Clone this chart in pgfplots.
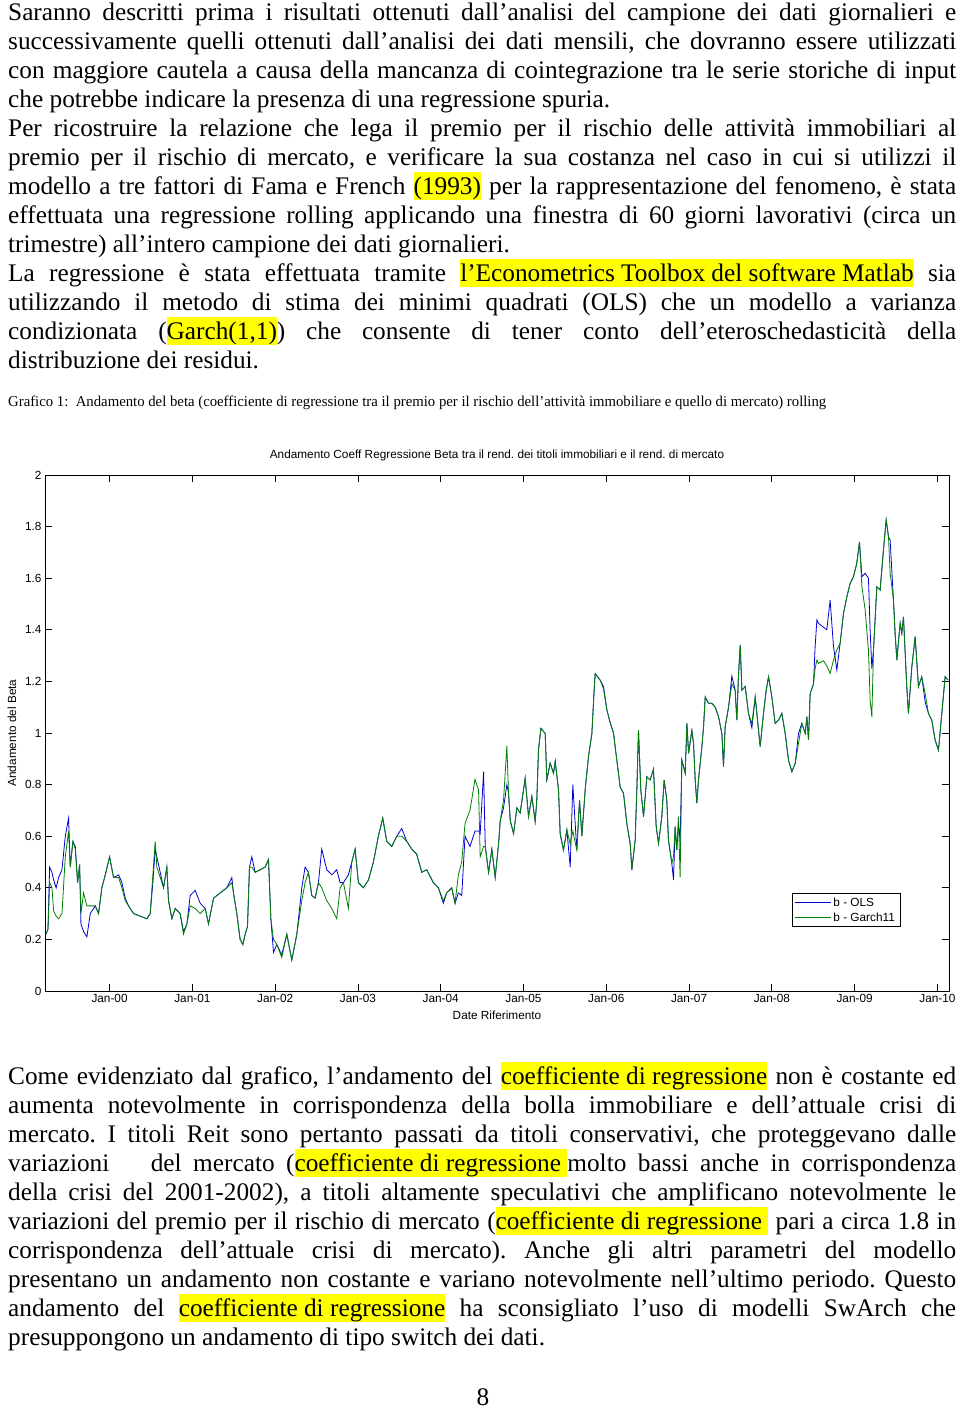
\documentclass[border=0pt]{standalone}
\usepackage{fontspec}
\setmainfont{Liberation Serif}
\newfontfamily\chartfont{Liberation Sans}
\usepackage{graphicx}
\usepackage{pgfplots}
\pgfplotsset{compat=1.18}
\usepackage{pgfplotstable}
\definecolor{olsblue}{RGB}{0,0,210}
\definecolor{garchgreen}{RGB}{0,128,0}
\definecolor{hly}{RGB}{255,255,0}
\newcommand\bodyfont{\fontsize{25.3pt}{29pt}\selectfont}
\newcommand\cfont{\chartfont\fontsize{11.8pt}{14pt}\selectfont}
\newcommand\JL[1]{\hbox to 948pt{#1}}
\newcommand\hl[1]{{\setlength\fboxsep{0pt}\colorbox{hly}{\rule[-6pt]{0pt}{28pt}#1}}}
\hbadness=10000
\hfuzz=20pt
\frenchspacing

\pgfplotstableread{
x g b
1999.231 0.22 0.22
1999.256 0.24 0.24
1999.276 0.42 0.48
1999.304 0.40 0.46
1999.324 0.31 0.43
1999.355 0.29 0.40
1999.384 0.28 0.44
1999.425 0.30 0.47
1999.465 0.52 0.60
1999.505 0.62 0.67
1999.525 0.48 0.48
1999.557 0.58 0.58
1999.586 0.55 0.56
1999.614 0.42 0.42
1999.638 0.49 0.49
1999.654 0.30 0.26
1999.686 0.38 0.23
1999.726 0.33 0.21
1999.767 0.33 0.30
1999.827 0.33 0.33
1999.867 0.30 0.30
1999.907 0.40 0.40
1999.948 0.45 0.45
2000.000 0.52 0.52
2000.048 0.44 0.44
2000.109 0.44 0.45
2000.149 0.40 0.42
2000.189 0.35 0.36
2000.229 0.33 0.33
2000.290 0.30 0.30
2000.370 0.29 0.29
2000.451 0.28 0.28
2000.491 0.30 0.30
2000.523 0.45 0.42
2000.551 0.58 0.55
2000.571 0.48 0.52
2000.612 0.44 0.46
2000.652 0.40 0.40
2000.692 0.48 0.48
2000.712 0.35 0.35
2000.753 0.28 0.28
2000.793 0.32 0.32
2000.853 0.30 0.30
2000.893 0.22 0.23
2000.934 0.26 0.26
2000.974 0.33 0.37
2001.034 0.32 0.39
2001.095 0.30 0.34
2001.155 0.32 0.32
2001.195 0.26 0.26
2001.256 0.36 0.36
2001.336 0.38 0.38
2001.416 0.40 0.40
2001.477 0.42 0.44
2001.497 0.38 0.38
2001.537 0.30 0.30
2001.577 0.20 0.20
2001.610 0.18 0.18
2001.638 0.22 0.22
2001.666 0.25 0.25
2001.690 0.48 0.48
2001.718 0.48 0.52
2001.759 0.46 0.46
2001.819 0.47 0.47
2001.879 0.48 0.48
2001.920 0.51 0.51
2001.948 0.28 0.28
2001.980 0.20 0.15
2002.020 0.18 0.18
2002.080 0.13 0.14
2002.141 0.22 0.22
2002.201 0.12 0.12
2002.262 0.22 0.22
2002.322 0.35 0.40
2002.362 0.42 0.48
2002.402 0.46 0.46
2002.443 0.37 0.37
2002.483 0.36 0.36
2002.523 0.42 0.42
2002.563 0.40 0.55
2002.624 0.35 0.47
2002.684 0.32 0.45
2002.744 0.28 0.47
2002.785 0.40 0.42
2002.825 0.42 0.42
2002.885 0.32 0.45
2002.926 0.50 0.50
2002.966 0.55 0.55
2003.006 0.42 0.42
2003.066 0.40 0.40
2003.127 0.43 0.43
2003.187 0.50 0.50
2003.247 0.60 0.60
2003.300 0.67 0.67
2003.348 0.58 0.58
2003.408 0.56 0.56
2003.469 0.60 0.60
2003.529 0.60 0.63
2003.590 0.58 0.58
2003.650 0.55 0.55
2003.710 0.53 0.53
2003.771 0.46 0.46
2003.831 0.47 0.47
2003.911 0.42 0.42
2003.972 0.40 0.40
2004.032 0.35 0.34
2004.072 0.38 0.38
2004.133 0.40 0.40
2004.173 0.34 0.34
2004.213 0.45 0.38
2004.254 0.50 0.37
2004.294 0.65 0.60
2004.354 0.70 0.56
2004.414 0.82 0.62
2004.457 0.78 0.62
2004.477 0.52 0.61
2004.518 0.56 0.85
2004.538 0.56 0.56
2004.578 0.46 0.46
2004.618 0.55 0.55
2004.658 0.44 0.44
2004.699 0.57 0.57
2004.719 0.66 0.66
2004.759 0.74 0.71
2004.799 0.95 0.80
2004.819 0.77 0.77
2004.840 0.66 0.66
2004.880 0.61 0.61
2004.920 0.71 0.71
2004.960 0.69 0.69
2005.020 0.825 0.825
2005.061 0.676 0.676
2005.101 0.754 0.754
2005.141 0.657 0.657
2005.161 0.74 0.74
2005.181 0.934 0.934
2005.210 1.018 1.018
2005.262 0.998 0.998
2005.282 0.818 0.818
2005.322 0.883 0.883
2005.363 0.844 0.844
2005.383 0.89 0.89
2005.423 0.78 0.78
2005.443 0.61 0.61
2005.483 0.546 0.546
2005.524 0.625 0.625
2005.564 0.57 0.48
2005.596 0.62 0.80
2005.644 0.546 0.546
2005.677 0.74 0.74
2005.705 0.60 0.60
2005.745 0.78 0.78
2005.785 0.908 0.908
2005.826 0.998 0.998
2005.854 1.17 1.17
2005.866 1.23 1.23
2005.926 1.205 1.205
2005.967 1.17 1.18
2006.007 1.09 1.09
2006.047 1.04 1.04
2006.087 1.0 1.0
2006.127 0.895 0.895
2006.168 0.79 0.79
2006.208 0.767 0.767
2006.248 0.65 0.65
2006.289 0.57 0.57
2006.309 0.47 0.47
2006.349 0.585 0.585
2006.369 0.78 0.78
2006.389 1.011 1.011
2006.417 0.78 0.78
2006.450 0.676 0.676
2006.490 0.83 0.83
2006.530 0.818 0.818
2006.570 0.86 0.86
2006.603 0.637 0.637
2006.631 0.572 0.572
2006.671 0.676 0.676
2006.699 0.818 0.818
2006.731 0.74 0.74
2006.751 0.585 0.585
2006.792 0.495 0.495
2006.812 0.52 0.43
2006.832 0.637 0.637
2006.852 0.546 0.546
2006.872 0.676 0.65
2006.892 0.44 0.58
2006.913 0.895 0.895
2006.953 0.844 0.844
2006.974 1.037 1.037
2006.994 0.921 0.921
2007.034 1.01 1.01
2007.054 0.96 0.96
2007.074 0.818 0.818
2007.094 0.728 0.728
2007.114 0.818 0.818
2007.155 0.947 0.947
2007.175 1.024 1.024
2007.195 1.14 1.14
2007.235 1.115 1.115
2007.275 1.115 1.115
2007.316 1.10 1.10
2007.356 1.063 1.063
2007.396 0.998 0.998
2007.416 0.87 0.87
2007.436 1.024 1.024
2007.477 1.10 1.10
2007.517 1.19 1.22
2007.557 1.166 1.166
2007.577 1.05 1.05
2007.598 1.23 1.23
2007.618 1.341 1.341
2007.638 1.166 1.166
2007.678 1.18 1.18
2007.718 1.076 1.076
2007.759 1.037 1.02
2007.799 1.14 1.14
2007.819 1.076 1.076
2007.859 0.947 0.947
2007.899 1.076 1.076
2007.932 1.166 1.166
2007.960 1.218 1.218
2008.000 1.14 1.14
2008.040 1.037 1.037
2008.081 1.05 1.05
2008.121 1.076 1.076
2008.161 0.998 0.998
2008.201 0.895 0.895
2008.242 0.85 0.85
2008.282 0.882 0.882
2008.322 0.96 0.998
2008.362 1.037 1.037
2008.403 0.998 0.998
2008.423 1.063 1.063
2008.443 0.973 0.973
2008.463 1.153 1.153
2008.503 1.19 1.19
2008.523 1.25 1.335
2008.544 1.283 1.438
2008.563 1.27 1.425
2008.624 1.28 1.41
2008.664 1.26 1.40
2008.704 1.231 1.515
2008.745 1.283 1.335
2008.785 1.322 1.244
2008.825 1.348 1.348
2008.865 1.463 1.463
2008.906 1.528 1.528
2008.946 1.580 1.580
2008.986 1.606 1.606
2009.026 1.658 1.658
2009.059 1.741 1.741
2009.087 1.57 1.606
2009.127 1.477 1.619
2009.167 1.322 1.60
2009.187 1.128 1.40
2009.208 1.063 1.25
2009.228 1.322 1.322
2009.268 1.567 1.567
2009.308 1.554 1.554
2009.348 1.709 1.709
2009.381 1.826 1.826
2009.409 1.761 1.761
2009.429 1.619 1.748
2009.469 1.515 1.515
2009.489 1.386 1.386
2009.510 1.283 1.283
2009.550 1.425 1.425
2009.570 1.386 1.386
2009.590 1.45 1.45
2009.630 1.179 1.179
2009.650 1.076 1.076
2009.691 1.257 1.257
2009.731 1.373 1.373
2009.771 1.179 1.179
2009.811 1.218 1.218
2009.852 1.153 1.12
2009.892 1.076 1.076
2009.932 1.05 1.05
2009.972 0.973 0.973
2010.013 0.934 0.934
2010.053 1.076 1.076
2010.093 1.218 1.218
2010.129 1.205 1.205
}\betadata

\begin{document}
\begin{tikzpicture}
\path[use as bounding box, fill=white] (0pt,0pt) rectangle (960pt,1409pt);

\begin{scope}[every node/.style={anchor=base west, inner sep=0pt, font=\bodyfont}]
\node at (8pt,1388.5pt) {\JL{Saranno descritti prima i risultati ottenuti dall’analisi del campione dei dati giornalieri e}};
\node at (8pt,1359.5pt) {\JL{successivamente quelli ottenuti dall’analisi dei dati mensili, che dovranno essere utilizzati}};
\node at (8pt,1330.5pt) {\JL{con maggiore cautela a causa della mancanza di cointegrazione tra le serie storiche di input}};
\node at (8pt,1301.5pt) {che potrebbe indicare la presenza di una regressione spuria.};
\node at (8pt,1272.5pt) {\JL{Per ricostruire la relazione che lega il premio per il rischio delle attività immobiliari al}};
\node at (8pt,1243.5pt) {\JL{premio per il rischio di mercato, e verificare la sua costanza nel caso in cui si utilizzi il}};
\node at (8pt,1214.5pt) {\JL{modello a tre fattori di Fama e French \hl{(1993)} per la rappresentazione del fenomeno, è stata}};
\node at (8pt,1185.5pt) {\JL{effettuata una regressione rolling applicando una finestra di 60 giorni lavorativi (circa un}};
\node at (8pt,1156.5pt) {trimestre) all’intero campione dei dati giornalieri.};
\node at (8pt,1127.5pt) {\JL{La regressione è stata effettuata tramite \hl{l’Econometrics Toolbox del software Matlab} sia}};
\node at (8pt,1098.5pt) {\JL{utilizzando il metodo di stima dei minimi quadrati (OLS) che un modello a varianza}};
\node at (8pt,1069.5pt) {\JL{condizionata (\hl{Garch(1,1)}) che consente di tener conto dell’eteroschedasticità della}};
\node at (8pt,1040.5pt) {distribuzione dei residui.};

\node at (8pt,324.5pt) {\JL{Come evidenziato dal grafico, l’andamento del \hl{coefficiente di regressione} non è costante ed}};
\node at (8pt,295.5pt) {\JL{aumenta notevolmente in corrispondenza della bolla immobiliare e dell’attuale crisi di}};
\node at (8pt,266.5pt) {\JL{mercato. I titoli Reit sono pertanto passati da titoli conservativi, che proteggevano dalle}};
\node at (8pt,237.5pt) {\JL{variazioni\hspace{30pt} del mercato (\hl{coefficiente di regressione }molto bassi anche in corrispondenza}};
\node at (8pt,208.5pt) {\JL{della crisi del 2001-2002), a titoli altamente speculativi che amplificano notevolmente le}};
\node at (8pt,179.5pt) {\JL{variazioni del premio per il rischio di mercato (\hl{coefficiente di regressione } pari a circa 1.8 in}};
\node at (8pt,150.5pt) {\JL{corrispondenza dell’attuale crisi di mercato). Anche gli altri parametri del modello}};
\node at (8pt,121.5pt) {\JL{presentano un andamento non costante e variano notevolmente nell’ultimo periodo. Questo}};
\node at (8pt,92.5pt) {\JL{andamento del \hl{coefficiente di regressione} ha sconsigliato l’uso di modelli SwArch che}};
\node at (8pt,63.5pt) {presuppongono un andamento di tipo switch dei dati.};
\node[anchor=base] at (483pt,4pt) {8};
\end{scope}

\node[anchor=base west, inner sep=0pt] at (8pt,1002pt) {\resizebox{818pt}{\height}{\fontsize{15pt}{18pt}\selectfont Grafico 1:\ \ Andamento del beta (coefficiente di regressione tra il premio per il rischio dell’attività immobiliare e quello di mercato) rolling}};

\begin{axis}[
  at={(45pt,418pt)}, anchor=south west,
  width=904pt, height=516pt, scale only axis,
  xmin=1999.22, xmax=2010.14, ymin=0, ymax=2,
  xtick={2000,2001,2002,2003,2004,2005,2006,2007,2008,2009,2010},
  xticklabels={Jan-00,Jan-01,Jan-02,Jan-03,Jan-04,Jan-05,Jan-06,Jan-07,Jan-08,Jan-09,Jan-10},
  ytick={0,0.2,0.4,0.6,0.8,1,1.2,1.4,1.6,1.8,2},
  yticklabels={0,0.2,0.4,0.6,0.8,1,1.2,1.4,1.6,1.8,2},
  tick align=inside, major tick length=7pt,
  tick style={black, line width=0.7pt},
  axis line style={black, line width=0.8pt},
  tick label style={font=\cfont},
  /pgf/number format/assume math mode=true,
  title={Andamento Coeff Regressione Beta tra il rend. dei titoli immobiliari e il rend. di mercato},
  title style={font=\cfont, at={(axis description cs:0.5,1)}, anchor=base, yshift=10pt},
  xlabel={Date Riferimento},
  xlabel style={font=\cfont, at={(axis description cs:0.5,0)}, anchor=base, yshift=-29pt},
  ylabel={Andamento del Beta},
  ylabel style={font=\cfont, at={(axis description cs:-0.0365,0.5)}, anchor=center},
  legend style={font=\cfont, at={(axis description cs:0.946,0.124)}, anchor=south east,
    draw=black, line width=0.6pt, inner xsep=3pt, inner ysep=2pt, row sep=1pt, cells={anchor=west}},
  legend image code/.code={\draw[#1, line width=0.6pt] (0pt,0pt) -- (36pt,0pt);},
]
\addplot[olsblue, line width=0.8pt] table[x=x, y=b] {\betadata};
\addlegendentry{b - OLS}
\addplot[garchgreen, line width=0.8pt] table[x=x, y=g] {\betadata};
\addlegendentry{b - Garch11}
\end{axis}
\end{tikzpicture}
\end{document}
